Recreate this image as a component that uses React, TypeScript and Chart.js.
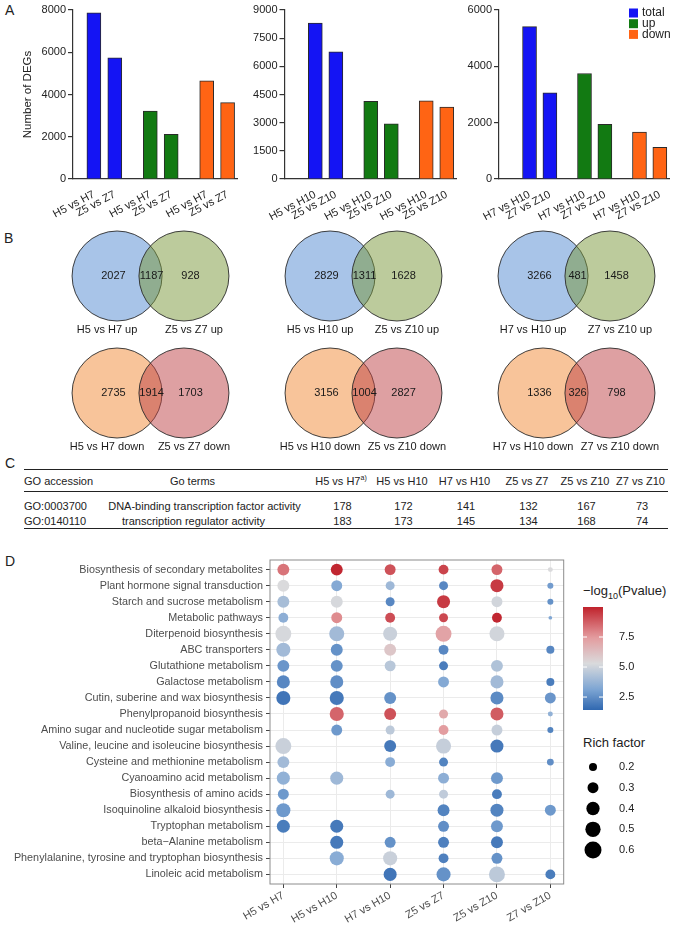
import React, { useEffect, useRef } from 'react';
import { Chart, registerables } from 'chart.js';

Chart.register(...registerables);

const FONT = '"Liberation Sans", Arial, Helvetica, sans-serif';
Chart.defaults.font.family = FONT;
Chart.defaults.color = '#222';

// ---------------- Panel A data ----------------
const degSeriesNames = ['total', 'up', 'down'];
const degA1Labels = ['H5 vs H7', 'Z5 vs Z7'];
const degA1Total = [7863, 5732];
const degA1Up = [3214, 2115];
const degA1Down = [4649, 3617];
const degA1Ticks = { max: 8000, step: 2000 };

const degA2Labels = ['H5 vs H10', 'Z5 vs Z10'];
const degA2Total = [8300, 6770];
const degA2Up = [4140, 2939];
const degA2Down = [4160, 3831];
const degA2Ticks = { max: 9000, step: 1500 };

const degA3Labels = ['H7 vs H10', 'Z7 vs Z10'];
const degA3Total = [5409, 3063];
const degA3Up = [3747, 1939];
const degA3Down = [1662, 1124];
const degA3Ticks = { max: 6000, step: 2000 };

// ---------------- Panel B data ----------------
const vennPairs = [
  ['H5 vs H7', 'Z5 vs Z7'],
  ['H5 vs H10', 'Z5 vs Z10'],
  ['H7 vs H10', 'Z7 vs Z10'],
];
const vennUpOnlyA = [2027, 2829, 3266];
const vennUpShared = [1187, 1311, 481];
const vennUpOnlyB = [928, 1628, 1458];
const vennDownOnlyA = [2735, 3156, 1336];
const vennDownShared = [1914, 1004, 326];
const vennDownOnlyB = [1703, 2827, 798];

// ---------------- Panel C data ----------------
const goIds = ['GO:0003700', 'GO:0140110'];
const goTerms = ['DNA-binding transcription factor activity', 'transcription regulator activity'];
const goCountsRow1 = [178, 172, 141, 132, 167, 73];
const goCountsRow2 = [183, 173, 145, 134, 168, 74];

// ---------------- Panel D data ----------------
const comparisons = ['H5 vs H7', 'H5 vs H10', 'H7 vs H10', 'Z5 vs Z7', 'Z5 vs Z10', 'Z7 vs Z10'];
const pathways = [
  'Biosynthesis of secondary metabolites',
  'Plant hormone signal transduction',
  'Starch and sucrose metabolism',
  'Metabolic pathways',
  'Diterpenoid biosynthesis',
  'ABC transporters',
  'Glutathione metabolism',
  'Galactose metabolism',
  'Cutin, suberine and wax biosynthesis',
  'Phenylpropanoid biosynthesis',
  'Amino sugar and nucleotide sugar metabolism',
  'Valine, leucine and isoleucine biosynthesis',
  'Cysteine and methionine metabolism',
  'Cyanoamino acid metabolism',
  'Biosynthesis of amino acids',
  'Isoquinoline alkaloid biosynthesis',
  'Tryptophan metabolism',
  'beta\u2212Alanine metabolism',
  'Phenylalanine, tyrosine and tryptophan biosynthesis',
  'Linoleic acid metabolism',
];
// -log10(Pvalue)
const pH5H7 = [8.3, 5.3, 4.1, 3.5, 5.2, 4.0, 2.7, 2.3, 1.8, null, null, 4.9, 4.0, 3.6, 2.8, 2.8, 2.0, null, null, null];
const pH5H10 = [9.9, 3.3, 5.2, 7.8, 4.0, 2.6, 2.6, 2.5, 1.9, 8.6, 2.8, null, null, 3.9, null, null, 1.9, 1.9, 3.4, null];
const pH7H10 = [9.0, 3.9, 2.3, 9.1, 4.9, 6.0, 4.5, null, 2.6, 9.0, 4.6, 1.9, 3.4, null, 3.9, null, null, 2.6, 4.9, 1.8];
const pZ5Z7 = [9.3, 2.3, 9.5, 9.2, 7.2, 2.3, 2.0, 3.3, null, 7.0, 7.4, 4.8, 2.2, 3.5, 4.7, 2.2, 2.5, 2.1, 2.1, 2.6];
const pZ5Z10 = [8.6, 9.5, 5.1, 9.9, 5.1, null, 4.3, 4.0, 2.4, 8.8, 4.8, 1.9, null, 2.8, 2.0, 2.2, 2.8, 1.9, 2.6, 4.6];
const pZ7Z10 = [5.3, 2.9, 2.6, 3.2, null, 2.3, null, 2.0, 2.7, 3.6, 2.2, null, 2.5, null, null, 2.8, null, null, null, 2.0];
// Rich factor
const rfH5H7 = [0.34, 0.34, 0.34, 0.26, 0.54, 0.44, 0.34, 0.39, 0.44, null, null, 0.54, 0.34, 0.39, 0.30, 0.44, 0.39, null, null, null];
const rfH5H10 = [0.34, 0.30, 0.34, 0.30, 0.49, 0.34, 0.34, 0.39, 0.44, 0.44, 0.30, null, null, 0.39, null, null, 0.39, 0.39, 0.44, null];
const rfH7H10 = [0.30, 0.23, 0.23, 0.26, 0.44, 0.34, 0.30, null, 0.34, 0.34, 0.23, 0.34, 0.26, null, 0.23, null, null, 0.30, 0.44, 0.39];
const rfZ5Z7 = [0.26, 0.23, 0.39, 0.23, 0.54, 0.26, 0.23, 0.30, null, 0.23, 0.26, 0.49, 0.23, 0.30, 0.23, 0.34, 0.30, 0.30, 0.26, 0.44];
const rfZ5Z10 = [0.30, 0.39, 0.30, 0.26, 0.49, null, 0.34, 0.39, 0.39, 0.39, 0.30, 0.39, null, 0.34, 0.26, 0.39, 0.34, 0.34, 0.30, 0.54];
const rfZ7Z10 = [0.13, 0.15, 0.15, 0.11, null, 0.20, null, 0.20, 0.30, 0.13, 0.15, null, 0.17, null, null, 0.30, null, null, null, 0.26];

const colorbarRange = [1.42, 10];
const colorbarTicks = [2.5, 5.0, 7.5];
const richLegendValues = [0.2, 0.3, 0.4, 0.5, 0.6];

// ---------------- styles / helpers ----------------
const barFill = ['#1414f4', '#127a12', '#ff6414'];
const GROUP_PITCH = 2.7;

const colorStops: [number, number[]][] = [
  [1.42, [48, 104, 176]],
  [3.2, [128, 167, 212]],
  [5.3, [218, 218, 220]],
  [7.5, [227, 154, 157]],
  [10, [192, 34, 44]],
];
function colorFor(v: number) {
  if (v <= colorStops[0][0]) return `rgb(${colorStops[0][1].join(',')})`;
  for (let i = 1; i < colorStops.length; i++) {
    const [v1, c1] = colorStops[i];
    const [v0, c0] = colorStops[i - 1];
    if (v <= v1) {
      const t = (v - v0) / (v1 - v0);
      const c = c0.map((a, k) => Math.round(a + (c1[k] - a) * t));
      return `rgb(${c.join(',')})`;
    }
  }
  return `rgb(${colorStops[colorStops.length - 1][1].join(',')})`;
}
function radiusFor(rf: number) {
  return Math.sqrt(Math.max(140 * rf - 12, 1.5));
}

function ChartCanvas({ left, top, width, height, config }: { left: number; top: number; width: number; height: number; config: () => any }) {
  const ref = useRef<HTMLCanvasElement>(null);
  useEffect(() => {
    const chart = new Chart(ref.current as HTMLCanvasElement, config());
    return () => chart.destroy();
  }, []);
  return <canvas ref={ref} width={width} height={height} style={{ position: 'absolute', left, top, width, height }} />;
}

const cornerLegend = {
  id: 'cornerLegend',
  afterDraw(chart: any) {
    const { ctx, chartArea } = chart;
    ctx.save();
    ctx.font = `12px ${FONT}`;
    ctx.textBaseline = 'middle';
    chart.data.datasets.forEach((ds: any, i: number) => {
      const y = chartArea.top + 3 + i * 10.7;
      const x = chartArea.right - 40;
      ctx.fillStyle = ds.backgroundColor;
      ctx.fillRect(x, y - 4.5, 9, 9);
      ctx.fillStyle = '#222';
      ctx.textAlign = 'left';
      ctx.fillText(ds.label, x + 13, y);
    });
    ctx.restore();
  },
};

function barConfig(labels: string[], total: number[], up: number[], down: number[], ticks: { max: number; step: number }, xMin: number, axisWidth: number, padRight: number, withTitle: boolean, withLegend: boolean) {
  const series = [total, up, down];
  const positions: number[] = [];
  const tickLabels: string[] = [];
  series.forEach((s, g) => s.forEach((_, m) => { positions.push(g * GROUP_PITCH + m); tickLabels.push(labels[m]); }));
  const datasets = series.map((s, g) => ({
    label: degSeriesNames[g],
    data: s.map((v, m) => ({ x: g * GROUP_PITCH + m, y: v })),
    backgroundColor: barFill[g],
    borderColor: '#2a2a2a',
    borderWidth: 1,
    barThickness: 14,
    grouped: false,
  }));
  return {
    type: 'bar',
    data: { datasets },
    options: {
      responsive: false,
      animation: false,
      layout: { autoPadding: false, padding: { top: 10, right: padRight, left: 0, bottom: 0 } },
      plugins: { legend: { display: false }, tooltip: { enabled: false } },
      scales: {
        x: {
          type: 'linear', offset: false, min: xMin, max: 6.85,
          afterBuildTicks: (s: any) => { s.ticks = positions.map((v) => ({ value: v })); },
          afterFit: (s: any) => { s.height = 46; s.paddingLeft = 0; s.paddingRight = 0; },
          ticks: { autoSkip: false, minRotation: 28, maxRotation: 28, padding: 1, color: '#222', font: { size: 11 }, callback: (_v: any, i: number) => tickLabels[i] },
          grid: { display: false },
          border: { display: true, color: '#333', width: 1.2 },
        },
        y: {
          min: 0, max: ticks.max,
          afterFit: (s: any) => { s.width = axisWidth; s.paddingTop = 0; s.paddingBottom = 0; },
          ticks: { stepSize: ticks.step, padding: 2, color: '#222', font: { size: 11 }, callback: (v: any) => String(v) },
          grid: { display: true, drawOnChartArea: false, drawTicks: true, tickLength: 5, color: '#333', lineWidth: 1.2 },
          border: { display: true, color: '#333', width: 1.2 },
          title: withTitle
            ? { display: true, text: 'Number of DEGs', color: '#222', font: { size: 11.5 }, padding: { top: 21, bottom: 0 } }
            : { display: false },
        },
      },
    },
    plugins: withLegend ? [cornerLegend] : [],
  };
}

// ---------------- Venn chart ----------------
const VENN_ROW_Y = [48, 165];
const VENN_LABEL_DY = 54;
const CIRCLE_DX = 0.157;
const vennText = {
  id: 'vennText',
  afterDatasetsDraw(chart: any) {
    const { ctx, scales } = chart;
    const x = scales.x;
    const y = scales.y;
    ctx.save();
    ctx.font = `11px ${FONT}`;
    ctx.fillStyle = '#1a1a1a';
    ctx.textAlign = 'center';
    ctx.textBaseline = 'middle';
    const rows = [
      { a: vennUpOnlyA, s: vennUpShared, b: vennUpOnlyB, suffix: 'up' },
      { a: vennDownOnlyA, s: vennDownShared, b: vennDownOnlyB, suffix: 'down' },
    ];
    rows.forEach((row, r) => {
      const cy = y.getPixelForValue(VENN_ROW_Y[r]);
      const ly = y.getPixelForValue(VENN_ROW_Y[r] + VENN_LABEL_DY);
      vennPairs.forEach((pair, i) => {
        const c = i + 0.5;
        ctx.fillText(String(row.a[i]), x.getPixelForValue(c - 0.174), cy);
        ctx.fillText(String(row.s[i]), x.getPixelForValue(c + 0.005), cy);
        ctx.fillText(String(row.b[i]), x.getPixelForValue(c + 0.188), cy);
        ctx.fillText(`${pair[0]} ${row.suffix}`, x.getPixelForValue(c - 0.204), ly);
        ctx.fillText(`${pair[1]} ${row.suffix}`, x.getPixelForValue(c + 0.204), ly);
      });
    });
    ctx.restore();
  },
};

function vennConfig() {
  const circleDs = (side: number, r: number, fill: string, order: number) => ({
    data: vennPairs.map((_, i) => ({ x: i + 0.5 + side * CIRCLE_DX, y: VENN_ROW_Y[r] })),
    pointRadius: 45,
    pointHoverRadius: 45,
    pointBackgroundColor: fill,
    pointBorderColor: '#2b2b2b',
    pointBorderWidth: 0.9,
    order,
    clip: false,
  });
  return {
    type: 'scatter',
    data: {
      datasets: [
        circleDs(1, 0, 'rgba(121,151,57,0.5)', 0),
        circleDs(-1, 0, 'rgba(81,137,209,0.5)', 1),
        circleDs(1, 1, 'rgba(189,65,69,0.5)', 0),
        circleDs(-1, 1, 'rgba(241,137,53,0.5)', 1),
      ],
    },
    options: {
      responsive: false,
      animation: false,
      layout: { autoPadding: false, padding: 0 },
      plugins: { legend: { display: false }, tooltip: { enabled: false } },
      scales: {
        x: { type: 'linear', min: 0, max: 3, display: false },
        y: { type: 'linear', min: 0, max: 232, reverse: true, display: false },
      },
    },
    plugins: [vennText],
  };
}

// ---------------- Dot plot ----------------
const frame = {
  id: 'frame',
  beforeDatasetsDraw(chart: any) {
    const { ctx, chartArea } = chart;
    ctx.save();
    ctx.strokeStyle = '#8c8c8c';
    ctx.lineWidth = 1;
    ctx.strokeRect(chartArea.left, chartArea.top, chartArea.right - chartArea.left, chartArea.bottom - chartArea.top);
    ctx.restore();
  },
};

function dotConfig() {
  const pCols = [pH5H7, pH5H10, pH7H10, pZ5Z7, pZ5Z10, pZ7Z10];
  const rfCols = [rfH5H7, rfH5H10, rfH7H10, rfZ5Z7, rfZ5Z10, rfZ7Z10];
  const points: any[] = [];
  pCols.forEach((col, ci) => col.forEach((p, ri) => {
    const rf = rfCols[ci][ri];
    if (p != null && rf != null) points.push({ x: ci, y: ri, p, rf });
  }));
  return {
    type: 'scatter',
    data: {
      datasets: [{
        data: points,
        pointRadius: (c: any) => radiusFor(c.raw.rf),
        pointHoverRadius: (c: any) => radiusFor(c.raw.rf),
        pointBackgroundColor: (c: any) => colorFor(c.raw.p),
        pointBorderWidth: 0,
        clip: false,
      }],
    },
    options: {
      responsive: false,
      animation: false,
      layout: { autoPadding: false, padding: { top: 5, right: 4.3, left: 0, bottom: 0 } },
      plugins: { legend: { display: false }, tooltip: { enabled: false } },
      scales: {
        x: {
          type: 'linear', min: -0.25, max: 5.25,
          afterBuildTicks: (s: any) => { s.ticks = comparisons.map((_, i) => ({ value: i })); },
          afterFit: (s: any) => { s.height = 43; s.paddingLeft = 0; s.paddingRight = 0; },
          ticks: { autoSkip: false, minRotation: 30, maxRotation: 30, padding: 1, color: '#4d4d4d', font: { size: 11 }, callback: (_v: any, i: number) => comparisons[i] },
          grid: { color: '#ebebeb', lineWidth: 1, tickColor: '#444', tickLength: 4, drawTicks: true },
          border: { display: false },
        },
        y: {
          type: 'linear', min: -0.6, max: 19.6, reverse: true,
          afterBuildTicks: (s: any) => { s.ticks = pathways.map((_, i) => ({ value: i })); },
          afterFit: (s: any) => { s.width = 270; s.paddingTop = 0; s.paddingBottom = 0; },
          ticks: { autoSkip: false, padding: 3, color: '#4d4d4d', font: { size: 10.8 }, callback: (_v: any, i: number) => pathways[i] },
          grid: { color: '#ebebeb', lineWidth: 1, tickColor: '#444', tickLength: 4, drawTicks: true },
          border: { display: false },
        },
      },
    },
    plugins: [frame],
  };
}

const colorbarTickMarks = {
  id: 'cbTicks',
  afterDatasetsDraw(chart: any) {
    const { ctx, chartArea, scales } = chart;
    ctx.save();
    ctx.strokeStyle = '#ffffff';
    ctx.lineWidth = 1;
    colorbarTicks.forEach((v) => {
      const py = scales.y.getPixelForValue(v);
      ctx.beginPath();
      ctx.moveTo(chartArea.left, py); ctx.lineTo(chartArea.left + 4, py);
      ctx.moveTo(chartArea.right - 4, py); ctx.lineTo(chartArea.right, py);
      ctx.stroke();
    });
    ctx.restore();
  },
};

function colorbarConfig() {
  return {
    type: 'bar',
    data: {
      labels: [''],
      datasets: [{
        data: [[colorbarRange[0], colorbarRange[1]]],
        barPercentage: 1,
        categoryPercentage: 1,
        borderWidth: 0,
        backgroundColor: (c: any) => {
          const { chart } = c;
          const { chartArea, scales } = chart;
          if (!chartArea) return '#ccc';
          const y0 = scales.y.getPixelForValue(colorbarRange[1]);
          const y1 = scales.y.getPixelForValue(colorbarRange[0]);
          const g = chart.ctx.createLinearGradient(0, y0, 0, y1);
          const n = 20;
          for (let k = 0; k <= n; k++) {
            const v = colorbarRange[1] - (k / n) * (colorbarRange[1] - colorbarRange[0]);
            g.addColorStop(k / n, colorFor(v));
          }
          return g;
        },
      }],
    },
    options: {
      responsive: false,
      animation: false,
      layout: { autoPadding: false, padding: { top: 7, bottom: 5, left: 0, right: 0 } },
      plugins: { legend: { display: false }, tooltip: { enabled: false } },
      scales: {
        x: { display: false },
        y: {
          position: 'right', min: colorbarRange[0], max: colorbarRange[1],
          afterBuildTicks: (s: any) => { s.ticks = colorbarTicks.map((v) => ({ value: v })); },
          afterFit: (s: any) => { s.width = 40; s.paddingTop = 0; s.paddingBottom = 0; },
          ticks: { padding: 8, color: '#222', font: { size: 11 }, callback: (v: any) => Number(v).toFixed(1) },
          grid: { display: false },
          border: { display: false },
        },
      },
    },
    plugins: [colorbarTickMarks],
  };
}

function sizeLegendConfig() {
  return {
    type: 'scatter',
    data: {
      datasets: [{
        data: richLegendValues.map((v) => ({ x: 0, y: v, rf: v })),
        pointRadius: (c: any) => radiusFor(c.raw.rf),
        pointHoverRadius: (c: any) => radiusFor(c.raw.rf),
        pointBackgroundColor: '#000',
        pointBorderWidth: 0,
        clip: false,
      }],
    },
    options: {
      responsive: false,
      animation: false,
      layout: { autoPadding: false, padding: { top: 6.6, bottom: 4.6, left: 0, right: 0 } },
      plugins: { legend: { display: false }, tooltip: { enabled: false } },
      scales: {
        x: { type: 'linear', min: -1, max: 1, display: false },
        y: {
          type: 'linear', position: 'right', min: 0.15, max: 0.65, reverse: true,
          afterBuildTicks: (s: any) => { s.ticks = richLegendValues.map((v) => ({ value: v })); },
          afterFit: (s: any) => { s.width = 40; s.paddingTop = 0; s.paddingBottom = 0; },
          ticks: { padding: 8, color: '#222', font: { size: 11 }, callback: (v: any) => Number(v).toFixed(1) },
          grid: { display: false },
          border: { display: false },
        },
      },
    },
  };
}

// ---------------- Table ----------------
const cellBase: React.CSSProperties = { padding: 0, fontWeight: 'normal', lineHeight: '14px', whiteSpace: 'nowrap' };
const valueColWidths = [62, 60, 65, 60, 56, 55];

function GoTable() {
  const rows = [goCountsRow1, goCountsRow2];
  return (
    <table style={{ position: 'absolute', left: 24, top: 469, width: 644, borderCollapse: 'collapse', tableLayout: 'fixed', fontFamily: FONT, fontSize: 11, color: '#222' }}>
      <colgroup>
        <col style={{ width: 75 }} />
        <col style={{ width: 211 }} />
        {valueColWidths.map((w, i) => <col key={i} style={{ width: w }} />)}
      </colgroup>
      <thead>
        <tr style={{ height: 22 }}>
          <th style={{ ...cellBase, textAlign: 'left', borderTop: '1.5px solid #222', borderBottom: '1px solid #222' }}>GO accession</th>
          <th style={{ ...cellBase, textAlign: 'center', paddingRight: 24, borderTop: '1.5px solid #222', borderBottom: '1px solid #222' }}>Go terms</th>
          {comparisons.map((c, i) => (
            <th key={c} style={{ ...cellBase, textAlign: 'center', borderTop: '1.5px solid #222', borderBottom: '1px solid #222' }}>
              {c}{i === 0 ? <sup style={{ fontSize: 7, lineHeight: 0 }}>a)</sup> : null}
            </th>
          ))}
        </tr>
      </thead>
      <tbody>
        {rows.map((vals, r) => {
          const last = r === rows.length - 1;
          const st: React.CSSProperties = {
            ...cellBase,
            height: last ? 15 : 21,
            verticalAlign: last ? 'middle' : 'bottom',
            borderBottom: last ? '1.5px solid #222' : 'none',
          };
          return (
            <tr key={r}>
              <td style={{ ...st, textAlign: 'left' }}>{goIds[r]}</td>
              <td style={{ ...st, textAlign: 'center', paddingRight: r === 1 ? 22 : 0 }}>{goTerms[r]}</td>
              {vals.map((v, i) => <td key={i} style={{ ...st, textAlign: 'center', paddingLeft: 3 }}>{v}</td>)}
            </tr>
          );
        })}
      </tbody>
    </table>
  );
}

const letterStyle: React.CSSProperties = { position: 'absolute', fontFamily: FONT, fontSize: 14, lineHeight: '14px', color: '#222' };

export default function App() {
  return (
    <div style={{ position: 'absolute', left: 0, top: 0, width: 685, height: 927, background: '#fff', overflow: 'hidden', fontFamily: FONT }}>
      <div style={{ ...letterStyle, left: 5, top: 3 }}>A</div>
      <div style={{ ...letterStyle, left: 4, top: 231 }}>B</div>
      <div style={{ ...letterStyle, left: 5, top: 456 }}>C</div>
      <div style={{ ...letterStyle, left: 5, top: 554 }}>D</div>

      <ChartCanvas left={0} top={0} width={244} height={225}
        config={() => barConfig(degA1Labels, degA1Total, degA1Up, degA1Down, degA1Ticks, -1.0, 73, 7, true, false)} />
      <ChartCanvas left={240} top={0} width={223} height={225}
        config={() => barConfig(degA2Labels, degA2Total, degA2Up, degA2Down, degA2Ticks, -1.5, 44.5, 7, false, false)} />
      <ChartCanvas left={460} top={0} width={225} height={225}
        config={() => barConfig(degA3Labels, degA3Total, degA3Up, degA3Down, degA3Ticks, -1.5, 39, 16, false, true)} />

      <ChartCanvas left={43.5} top={228} width={639} height={232} config={vennConfig} />

      <GoTable />

      <ChartCanvas left={0} top={555} width={568} height={372} config={dotConfig} />

      <div style={{ position: 'absolute', left: 583, top: 583, fontSize: 13, lineHeight: '16px', color: '#222', whiteSpace: 'nowrap' }}>
        {'\u2212log'}<sub style={{ fontSize: 9, lineHeight: 0 }}>10</sub>(Pvalue)
      </div>
      <ChartCanvas left={583} top={600} width={60} height={115} config={colorbarConfig} />
      <div style={{ position: 'absolute', left: 583, top: 735, fontSize: 13, lineHeight: '16px', color: '#222', whiteSpace: 'nowrap' }}>Rich factor</div>
      <ChartCanvas left={583} top={750} width={60} height={115} config={sizeLegendConfig} />
    </div>
  );
}
